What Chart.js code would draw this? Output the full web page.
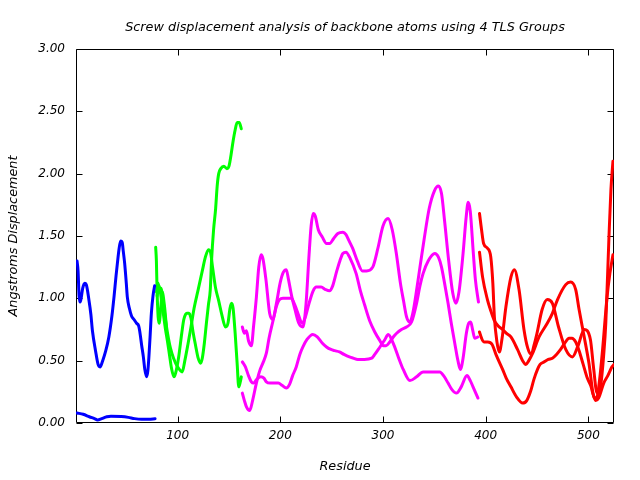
<!DOCTYPE html>
<html>
<head>
<meta charset="utf-8">
<script src="https://cdn.jsdelivr.net/npm/chart.js@4"></script>
<style>
  html, body { margin: 0; padding: 0; background: #fff; }
  canvas { display: block; }
</style>
</head>
<body>
<canvas id="c" width="640" height="480"></canvas>
<script>
// ---------------- DATA ----------------
const chartTitle = 'Screw displacement analysis of backbone atoms using 4 TLS Groups';
const xTitle = 'Residue';
const yTitle = 'Angstroms Displacement';
const xTickValues = [100, 200, 300, 400, 500];
const yTickValues = [0, 0.5, 1.0, 1.5, 2.0, 2.5, 3.0];

// TLS group 1 (blue)
const resB1 = [2,3,4,5,6,7.5,9.5,11,13.7,15.5,17,20,22.5,24.4,27,30,33,36,38,40,41.3,43,44.5,46,47,48.4,50,51,53,55,57.5,60,62,63,65,66.6,68,69.8,71,72,73.2,74.4,76,77.6];
const valB1 = [1.30,1.22,1.02,0.97,1.00,1.08,1.12,1.11,0.98,0.87,0.74,0.58,0.47,0.45,0.50,0.58,0.69,0.86,1.01,1.18,1.28,1.40,1.46,1.45,1.38,1.28,1.12,1.01,0.92,0.86,0.83,0.80,0.78,0.74,0.62,0.53,0.43,0.37,0.42,0.53,0.70,0.88,1.02,1.10];
const resB2 = [2,8,14,19,22,26,31,35,45,52,58,65,72,78];
const valB2 = [0.08,0.07,0.05,0.035,0.025,0.035,0.05,0.055,0.052,0.045,0.035,0.03,0.03,0.035];

// TLS group 2 (green)
const resG1 = [80,82,84,86,88,90,92,94,96.4,98,101,104,106,109,111,113,115,117.5,120,122.3,124,126,128,130,131.8,133,135,137,138.5,140,142,145,148,150,152,154,156,158,160,162];
const valG1 = [1.02,1.10,1.00,0.88,0.76,0.66,0.55,0.44,0.37,0.40,0.53,0.72,0.83,0.88,0.88,0.84,0.73,0.62,0.52,0.48,0.52,0.64,0.80,0.95,1.07,1.30,1.55,1.72,1.90,2.00,2.04,2.06,2.04,2.06,2.15,2.26,2.35,2.41,2.41,2.36];
const resG2 = [79.5,81,82.5,84,85.5,87,89,91,93,96,100,104.5,107,110,113,116,120,124,127,130,132,134,137,140,143,146.6,149,151,152.5,154,156,158,159.5,161,162];
const valG2 = [1.05,1.12,1.05,1.08,1.00,0.90,0.78,0.68,0.60,0.52,0.45,0.41,0.50,0.63,0.77,0.92,1.07,1.22,1.33,1.39,1.37,1.25,1.08,0.98,0.87,0.77,0.80,0.92,0.96,0.92,0.72,0.47,0.29,0.33,0.37];
const resG3 = [78.6,79.3,80,81,82,83.5,85,87,89];
const valG3 = [1.41,1.30,1.05,0.85,0.80,0.92,1.05,0.95,0.78];

// TLS group 3 (magenta)
const resM1 = [163,165,167,169,171.8,174,176.7,179,181.3,183,186,189.6,192.9,196,200,203,205.8,208,211,214,218,222,225,228,230,232,234,237,241,245,248,252,256,261,264,267,270.5,275,280,284,290,295,300,305,309,313,317,320,323,326,329,333,336,340,345,350,354,357,360,364,368,371,374,378,381,383,385,388,390,393];
const valM1 = [0.77,0.72,0.74,0.66,0.62,0.78,1.01,1.25,1.35,1.32,1.15,0.88,0.83,0.95,1.13,1.21,1.23,1.15,1.02,0.92,0.80,0.77,0.95,1.35,1.58,1.68,1.66,1.55,1.49,1.44,1.44,1.48,1.52,1.53,1.51,1.46,1.40,1.30,1.22,1.22,1.25,1.40,1.58,1.64,1.55,1.36,1.12,0.98,0.85,0.81,0.88,1.08,1.25,1.47,1.72,1.86,1.90,1.84,1.62,1.30,1.04,0.96,1.05,1.36,1.65,1.77,1.70,1.36,1.15,0.97];
const resM2 = [163,166,169,171.8,174,177,181,184,186.4,190,194.5,198,202,205.8,209,212,215.5,219,222,226,231.7,236,241,245,249.3,253,257.6,262,267.3,271,275.4,281.9,289,292,295.4,301.9,305.1,309.9,314.9,319.7,326.2,332.7,339.1,348.8,355.3,359,363.4,367,371.5,376.2,381.8,385,387.7,392.5];
const valM2 = [0.49,0.45,0.38,0.33,0.32,0.35,0.37,0.36,0.33,0.32,0.32,0.32,0.30,0.28,0.31,0.38,0.45,0.55,0.61,0.67,0.71,0.69,0.64,0.61,0.59,0.58,0.57,0.55,0.53,0.52,0.51,0.51,0.52,0.55,0.59,0.67,0.71,0.64,0.53,0.43,0.34,0.37,0.41,0.41,0.41,0.38,0.32,0.27,0.24,0.29,0.38,0.34,0.29,0.20];
const resM3 = [163,165,167,170.2,173,176.7,180,183,186.4,189,192.9,196,199.3,202.6,206,210.7,214,218,221,224,228,232,235,239.8,244,247.9,251,255,258,260.9,264,268,273.8,278,282,287,292,297,300.3,303,306.6,310,313.3,318,322.9,327.8,332.7,336,339.1,344,350.5,354,357,360,363.4,366.5,369.9,373,375.4,378,381.2,383.5,385.4,387.5,389.3,392.5];
const valM3 = [0.24,0.18,0.13,0.10,0.18,0.32,0.42,0.48,0.56,0.68,0.82,0.93,0.99,1.00,1.00,1.00,0.95,0.86,0.80,0.84,0.96,1.06,1.09,1.09,1.07,1.06,1.10,1.22,1.30,1.36,1.37,1.32,1.20,1.06,0.95,0.82,0.73,0.66,0.62,0.62,0.65,0.69,0.72,0.75,0.77,0.81,0.96,1.10,1.20,1.30,1.36,1.33,1.25,1.12,0.96,0.80,0.64,0.50,0.43,0.52,0.72,0.80,0.81,0.74,0.68,0.69];

// TLS group 4 (red)
const resR1 = [394,396,398,402,405,407,408.5,411,413.3,416,419.7,424.6,428,432.5,437.3,441,444.4,447,450,455,460,465,471,478,484.5,490,496,502,505,508.5,512,515,517,520,522,524];
const valR1 = [1.68,1.55,1.44,1.40,1.33,1.12,0.85,0.65,0.57,0.68,0.93,1.17,1.23,1.07,0.75,0.60,0.55,0.62,0.72,0.91,0.99,0.96,0.77,0.59,0.53,0.62,0.75,0.67,0.45,0.24,0.30,0.55,0.80,1.47,1.87,2.10];
const resR2 = [394,397,401.7,405,408,412,416.5,420,424.6,431,436,439.2,442,445.8,452,460,465,470,478,482.8,487.7,491,496,500.6,505.5,508,511,514,518,521,524];
const valR2 = [1.37,1.17,0.99,0.90,0.83,0.78,0.75,0.72,0.69,0.59,0.50,0.47,0.50,0.56,0.69,0.80,0.88,0.99,1.11,1.13,1.07,0.91,0.69,0.48,0.21,0.20,0.35,0.60,0.99,1.20,1.35];
const resR3 = [394,396,398.3,402,406.3,410,416.5,420,424.6,430,436,440,444,447,450.5,453,457,461,465,469,473,477,481.2,484,487.7,491,495,499,502.3,505,507.2,510,515,519,523,525];
const valR3 = [0.73,0.68,0.65,0.65,0.63,0.55,0.43,0.36,0.29,0.21,0.16,0.18,0.26,0.35,0.43,0.47,0.49,0.51,0.52,0.55,0.59,0.64,0.68,0.68,0.65,0.58,0.47,0.36,0.30,0.22,0.18,0.20,0.32,0.38,0.45,0.47];

// ---------------- CHART ----------------
const BLUE = '#0000ff', GREEN = '#00ff00', MAGENTA = '#ff00ff', RED = '#ff0000';
function series(res, val, color) {
  return {
    data: res.map((r, i) => ({ x: r, y: val[i] })),
    borderColor: color,
    backgroundColor: color,
    borderWidth: 3,
    pointRadius: 0,
    pointHoverRadius: 0,
    fill: false,
    cubicInterpolationMode: 'monotone',
    borderJoinStyle: 'round',
    borderCapStyle: 'round'
  };
}

const tickFont = { family: 'DejaVu Sans', size: 12, style: 'italic', weight: 'normal' };
const titleFont = { family: 'DejaVu Sans', size: 12.8, style: 'italic', weight: 'normal' };

const framePlugin = {
  id: 'frame',
  beforeDatasetsDraw(chart) {
    const { ctx, chartArea: a, scales: { x, y } } = chart;
    const L = Math.round(a.left) + 0.5, R = Math.round(a.right) - 0.5;
    const T = Math.round(a.top) + 0.5, B = Math.round(a.bottom) - 0.5;
    const tl = 6;
    ctx.save();
    ctx.strokeStyle = '#000';
    ctx.lineWidth = 1;
    ctx.beginPath();
    ctx.rect(L, T, R - L, B - T);
    xTickValues.forEach(v => {
      const px = Math.round(x.getPixelForValue(v)) + 0.5;
      ctx.moveTo(px, B); ctx.lineTo(px, B - tl);
      ctx.moveTo(px, T); ctx.lineTo(px, T + tl);
    });
    yTickValues.forEach(v => {
      const py = Math.round(y.getPixelForValue(v)) + 0.5;
      ctx.moveTo(L, py); ctx.lineTo(L + tl, py);
      ctx.moveTo(R, py); ctx.lineTo(R - tl, py);
    });
    ctx.stroke();
    ctx.restore();
  }
};

new Chart(document.getElementById('c'), {
  type: 'line',
  data: {
    datasets: [
      series(resB1, valB1, BLUE),
      series(resB2, valB2, BLUE),
      series(resG1, valG1, GREEN),
      series(resG2, valG2, GREEN),
      series(resG3, valG3, GREEN),
      series(resM1, valM1, MAGENTA),
      series(resM2, valM2, MAGENTA),
      series(resM3, valM3, MAGENTA),
      series(resR1, valR1, RED),
      series(resR2, valR2, RED),
      series(resR3, valR3, RED)
    ]
  },
  options: {
    responsive: false,
    animation: false,
    devicePixelRatio: 1,
    layout: { padding: { left: 0, right: 26, top: 0, bottom: 0 } },
    plugins: {
      legend: { display: false },
      tooltip: { enabled: false },
      title: {
        display: true,
        text: chartTitle,
        fullSize: false,
        color: '#000',
        font: titleFont,
        padding: { top: 20, bottom: 13.6 }
      }
    },
    scales: {
      x: {
        type: 'linear',
        min: 1,
        max: 525,
        grid: { display: false, drawTicks: false },
        border: { display: false },
        afterBuildTicks: s => { s.ticks = xTickValues.map(v => ({ value: v })); },
        afterFit: s => { s.height = 57; },
        ticks: { color: '#000', font: tickFont, padding: 6, maxRotation: 0, autoSkip: false },
        title: { display: true, text: xTitle, color: '#000', font: titleFont, padding: { top: 0, bottom: 5.5 } }
      },
      y: {
        type: 'linear',
        min: 0,
        max: 3,
        grid: { display: false, drawTicks: false },
        border: { display: false },
        afterBuildTicks: s => { s.ticks = yTickValues.map(v => ({ value: v })); },
        afterFit: s => { s.width = 76; },
        ticks: { color: '#000', font: tickFont, padding: 11, callback: v => Number(v).toFixed(2) },
        title: { display: true, text: yTitle, color: '#000', font: titleFont, padding: { top: 5.5, bottom: 0 } }
      }
    }
  },
  plugins: [framePlugin]
});
</script>
</body>
</html>
